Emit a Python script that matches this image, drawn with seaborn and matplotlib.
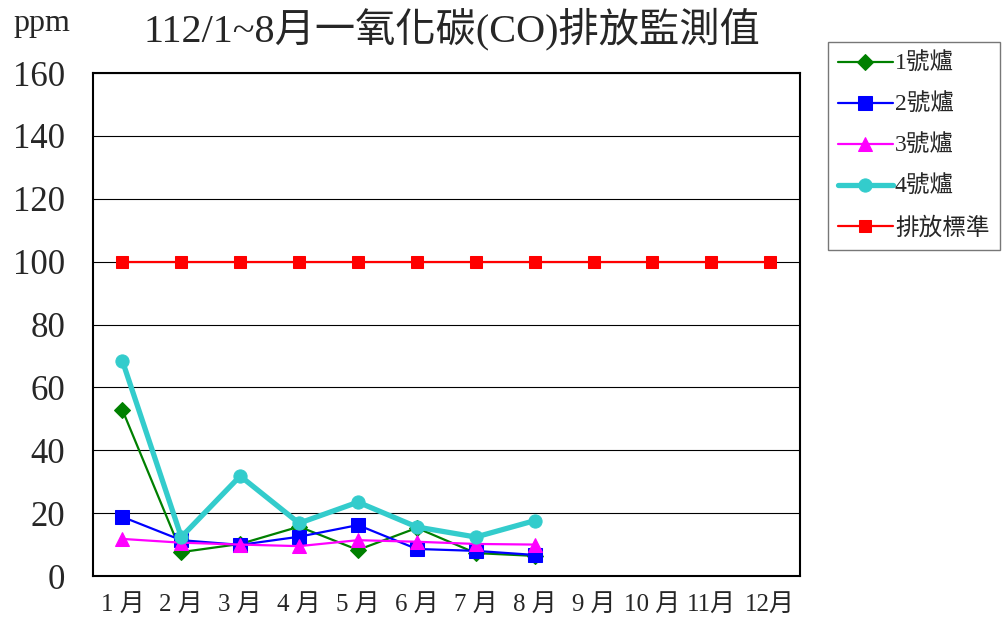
import numpy as np
import pandas as pd
import matplotlib
matplotlib.use("Agg")
import matplotlib.pyplot as plt
import seaborn as sns

sns.set_style("white")
plt.rcParams['font.family'] = ['Liberation Serif', 'Noto Sans CJK TC', 'DejaVu Sans']

months = np.arange(1, 13)
month_labels = ['1 月', '2 月', '3 月', '4 月', '5 月', '6 月', '7 月', '8 月',
                '9 月', '10 月', '11月', '12月']
measured = months[:8]

furnace1 = [52.8, 7.6, 10.2, 15.7, 8.3, 15.3, 7.3, 6.4]
furnace2 = [18.8, 11.4, 9.9, 12.5, 16.2, 8.6, 8.0, 6.7]
furnace3 = [11.8, 10.6, 10.0, 9.5, 11.4, 10.9, 10.2, 10.0]
furnace4 = [68.4, 12.4, 31.8, 16.8, 23.5, 15.6, 12.4, 17.6]
standard = [100] * 12

series = [
    ('1號爐', measured, furnace1, '#008000', 'D', 1.6, 8),
    ('2號爐', measured, furnace2, '#0000FF', 's', 1.6, 9.5),
    ('3號爐', measured, furnace3, '#FF00FF', '^', 1.6, 10),
    ('4號爐', measured, furnace4, '#33CCCC', 'o', 3.8, 9.5),
    ('排放標準', months, standard, '#FF0000', 's', 1.6, 8.5),
]

fig = plt.figure(figsize=(10.02, 6.24), dpi=100)
ax = fig.add_axes([0.0928, 0.0769, 0.7052, 0.8061])

for name, xs, ys, col, mk, lw, ms in series:
    sns.lineplot(x=xs, y=ys, color=col, marker=mk, linewidth=lw, markersize=ms,
                 markeredgecolor=col, markerfacecolor=col, label=name, ax=ax)

ax.set_xlim(0.5, 12.5)
ax.set_ylim(0, 160)
ax.set_yticks(np.arange(0, 161, 20))
ax.yaxis.grid(True, color='black', linewidth=0.8)
ax.set_axisbelow(True)

ax.set_xticks(np.arange(0.5, 12.6, 1))
ax.set_xticklabels([])
ax.set_xticks(months, minor=True)
ax.set_xticklabels(month_labels, minor=True, fontsize=18)
ax.tick_params(axis='x', which='major', direction='in', length=6, width=1, color='black')
ax.tick_params(axis='x', which='minor', length=0, pad=13)
ax.tick_params(axis='y', direction='in', length=4, width=1, labelsize=25, pad=20, color='black')

for sp in ax.spines.values():
    sp.set_color('black')
    sp.set_linewidth(1.5)

ax.set_xlabel('')
ax.set_ylabel('')

handles, labels = ax.get_legend_handles_labels()
ax.get_legend().remove()
leg = fig.legend(handles, labels, loc='upper left', bbox_to_anchor=(0.826, 0.932),
                 fontsize=17, frameon=True, fancybox=False, handlelength=2.3,
                 labelspacing=0.8, handletextpad=0.1, borderpad=0.45, borderaxespad=0)
leg.get_frame().set_edgecolor('#555555')
leg.get_frame().set_linewidth(1)

fig.text(0.451, 0.953, '112/1~8月一氧化碳(CO)排放監測值', ha='center', va='center', fontsize=29)
fig.text(0.013, 0.962, 'ppm', ha='left', va='center', fontsize=23)

fig.savefig('out.png', dpi=100)
